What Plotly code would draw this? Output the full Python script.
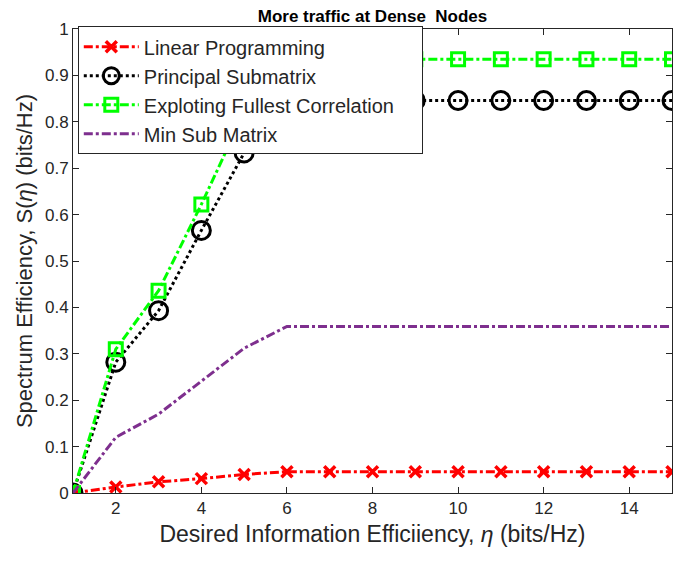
import plotly.graph_objects as go

# Datos
eta = list(range(1, 16))
linear_prog = [0, 0.013, 0.024, 0.031, 0.04] + [0.046] * 10
principal_sub = [0, 0.282, 0.393, 0.566, 0.733] + [0.846] * 10
fullest_corr = [0, 0.31, 0.436, 0.622, 0.82] + [0.935] * 10
min_sub = [0, 0.12, 0.17, 0.24, 0.312] + [0.359] * 10

x_ticks = [2, 4, 6, 8, 10, 12, 14]
y_ticks = [0, 0.1, 0.2, 0.3, 0.4, 0.5, 0.6, 0.7, 0.8, 0.9, 1]

fig = go.Figure()
fig.add_trace(go.Scatter(x=eta, y=linear_prog, name='Linear Programming', mode='lines+markers',
                         line=dict(color='#ff0000', width=3, dash='dashdot'),
                         marker=dict(symbol='x-thin', size=11, line=dict(color='#ff0000', width=3.5))))
fig.add_trace(go.Scatter(x=eta, y=principal_sub, name='Principal Submatrix', mode='lines+markers',
                         line=dict(color='black', width=3, dash='dot'),
                         marker=dict(symbol='circle-open', size=18, color='black', line=dict(width=3))))
# espacios duros al final para que la caja de la leyenda quede tan ancha como en la original
fig.add_trace(go.Scatter(x=eta, y=fullest_corr, name='Exploting Fullest Correlation\u00a0\u00a0\u00a0\u00a0',
                         mode='lines+markers',
                         line=dict(color='#00ff00', width=3, dash='dashdot'),
                         marker=dict(symbol='square-open', size=13, color='#00ff00', line=dict(width=3))))
fig.add_trace(go.Scatter(x=eta, y=min_sub, name='Min Sub Matrix', mode='lines',
                         line=dict(color='#7e2f8e', width=3, dash='dashdot')))

eje = dict(showgrid=False, zeroline=False, showline=True, linecolor='#262626', linewidth=1,
           mirror='ticks', ticks='inside', ticklen=6, tickcolor='#262626',
           tickfont=dict(family='Liberation Sans', size=17, color='#262626'))

fig.update_xaxes(range=[1, 15], tickvals=x_ticks, **eje,
                 title=dict(text='Desired Information Efficiiency, <i>η</i> (bits/Hz)',
                            font=dict(family='Liberation Sans', size=23, color='#262626'), standoff=8))
fig.update_yaxes(range=[0, 1], tickvals=y_ticks, ticktext=[str(v) for v in y_ticks], **eje,
                 title=dict(text='Spectrum Efficiency, S(<i>η</i>) (bits/Hz)',
                            font=dict(family='Liberation Sans', size=22, color='#262626'), standoff=6))

# la pagina tiene 8px de margen en el body, se compensa aqui
fig.update_layout(
    width=677, height=553,
    paper_bgcolor='white', plot_bgcolor='white',
    margin=dict(l=65, r=12, t=17, b=68),
    title=dict(text='<b>More traffic at Dense  Nodes</b>', x=0.5, xref='paper', xanchor='center',
               y=0.997, yref='container', yanchor='top', pad=dict(t=0),
               font=dict(family='Liberation Sans', size=17, color='black')),
    legend=dict(x=0.008, y=1.006, xanchor='left', yanchor='top', bgcolor='white',
                bordercolor='#262626', borderwidth=1, tracegroupgap=0, itemwidth=55,
                font=dict(family='Liberation Sans', size=20, color='#262626')),
    showlegend=True,
)

fig.write_html("out.html")
